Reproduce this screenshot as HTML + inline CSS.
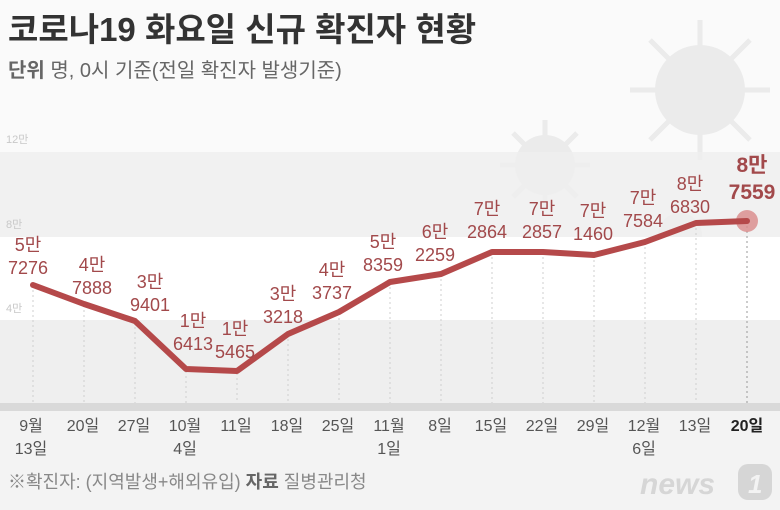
<!DOCTYPE html>
<html><head><meta charset="utf-8"><style>
body{margin:0;width:780px;height:510px;overflow:hidden;background:#fafafa;font-family:"Liberation Sans","Noto Sans CJK KR",sans-serif;}
</style></head><body>
<svg width="780" height="510" xmlns="http://www.w3.org/2000/svg" style="position:absolute;left:0;top:0;font-family:'Liberation Sans','Noto Sans CJK KR',sans-serif">
<rect x="0" y="0" width="780" height="510" fill="#fafafa"/>
<g fill="#ebebeb">
<circle cx="700" cy="90" r="45"/><circle cx="545" cy="165" r="30"/><circle cx="680" cy="235" r="22"/>
</g>
<g stroke="#ebebeb" stroke-width="5">
<line x1="700" y1="20" x2="700" y2="160"/><line x1="630" y1="90" x2="770" y2="90"/><line x1="650" y1="40" x2="750" y2="140"/><line x1="650" y1="140" x2="750" y2="40"/>
<line x1="545" y1="120" x2="545" y2="210"/><line x1="500" y1="165" x2="590" y2="165"/><line x1="513" y1="133" x2="577" y2="197"/><line x1="513" y1="197" x2="577" y2="133"/>
</g>
<rect x="0" y="152" width="780" height="85" fill="#efefef" opacity="0.85"/>
<rect x="0" y="237" width="780" height="83" fill="#ffffff"/>
<rect x="0" y="320" width="780" height="83" fill="#efefef"/>
<rect x="0" y="403" width="780" height="8" fill="#d9d9d9"/>
<rect x="0" y="411" width="780" height="99" fill="#f3f3f3"/>
<text x="8" y="41" font-size="33" font-weight="bold" fill="#333">코로나19 화요일 신규 확진자 현황</text>
<text x="8" y="77" font-size="20" fill="#666"><tspan font-weight="bold">단위</tspan>  명, 0시 기준(전일 확진자 발생기준)</text>
<g font-size="11" fill="#c8c8c8"><text x="6" y="143">12만</text><text x="6" y="228">8만</text><text x="6" y="312">4만</text></g>
<g stroke="#cfcfcf" stroke-dasharray="2,3" stroke-width="1">
<line x1="33" y1="290" x2="33" y2="403"/><line x1="84" y1="305" x2="84" y2="403"/><line x1="135" y1="322" x2="135" y2="403"/><line x1="186" y1="371" x2="186" y2="403"/><line x1="237" y1="373" x2="237" y2="403"/><line x1="288" y1="334" x2="288" y2="403"/><line x1="339" y1="313" x2="339" y2="403"/><line x1="390" y1="282" x2="390" y2="403"/><line x1="441" y1="274" x2="441" y2="403"/><line x1="492" y1="252" x2="492" y2="403"/><line x1="543" y1="252" x2="543" y2="403"/><line x1="594" y1="255" x2="594" y2="403"/><line x1="645" y1="242" x2="645" y2="403"/><line x1="696" y1="223" x2="696" y2="403"/><line x1="747" y1="221" x2="747" y2="403" stroke="#999"/>
</g>
<circle cx="747" cy="221" r="11" fill="#d98a8a" opacity="0.8"/>
<polyline fill="none" stroke="#b5494a" stroke-width="6" stroke-linejoin="round" stroke-linecap="round" points="33,285 84,304 135,321 186,369 237,371 288,334 339,312 390,282 441,274 492,252 543,252 594,255 645,242 696,223 747,221"/>
<g font-size="18" fill="#a2494b" text-anchor="middle">
<text x="28" y="251">5만</text><text x="28" y="274">7276</text>
<text x="92" y="271">4만</text><text x="92" y="294">7888</text>
<text x="150" y="288">3만</text><text x="150" y="311">9401</text>
<text x="193" y="327">1만</text><text x="193" y="350">6413</text>
<text x="235" y="335">1만</text><text x="235" y="358">5465</text>
<text x="283" y="300">3만</text><text x="283" y="323">3218</text>
<text x="332" y="276">4만</text><text x="332" y="299">3737</text>
<text x="383" y="248">5만</text><text x="383" y="271">8359</text>
<text x="435" y="238">6만</text><text x="435" y="261">2259</text>
<text x="487" y="215">7만</text><text x="487" y="238">2864</text>
<text x="542" y="215">7만</text><text x="542" y="238">2857</text>
<text x="593" y="217">7만</text><text x="593" y="240">1460</text>
<text x="643" y="204">7만</text><text x="643" y="227">7584</text>
<text x="690" y="190">8만</text><text x="690" y="213">6830</text>
</g>
<g font-size="21" font-weight="bold" fill="#a2494b" text-anchor="middle"><text x="752" y="172">8만</text><text x="752" y="199">7559</text></g>
<g font-size="16" fill="#555" text-anchor="middle">
<text x="31" y="431">9월</text><text x="31" y="454">13일</text>
<text x="83" y="431">20일</text><text x="134" y="431">27일</text>
<text x="185" y="431">10월</text><text x="185" y="454">4일</text>
<text x="236" y="431">11일</text><text x="287" y="431">18일</text><text x="338" y="431">25일</text>
<text x="389" y="431">11월</text><text x="389" y="454">1일</text>
<text x="440" y="431">8일</text><text x="491" y="431">15일</text><text x="542" y="431">22일</text><text x="593" y="431">29일</text>
<text x="644" y="431">12월</text><text x="644" y="454">6일</text>
<text x="695" y="431">13일</text>
<text x="747" y="431" font-weight="bold" fill="#222">20일</text>
</g>
<text x="8" y="488" font-size="18" fill="#888">※확진자: (지역발생+해외유입)  <tspan font-weight="bold" fill="#666">자료</tspan> 질병관리청</text>
<text x="640" y="494" font-size="30" font-weight="bold" font-style="italic" fill="#d6d6d6">news</text>
<rect x="738" y="464" width="34" height="36" rx="10" fill="#d6d6d6"/>
<text x="748" y="493" font-size="26" font-weight="bold" font-style="italic" fill="#f3f3f3">1</text>
</svg>
</body></html>
